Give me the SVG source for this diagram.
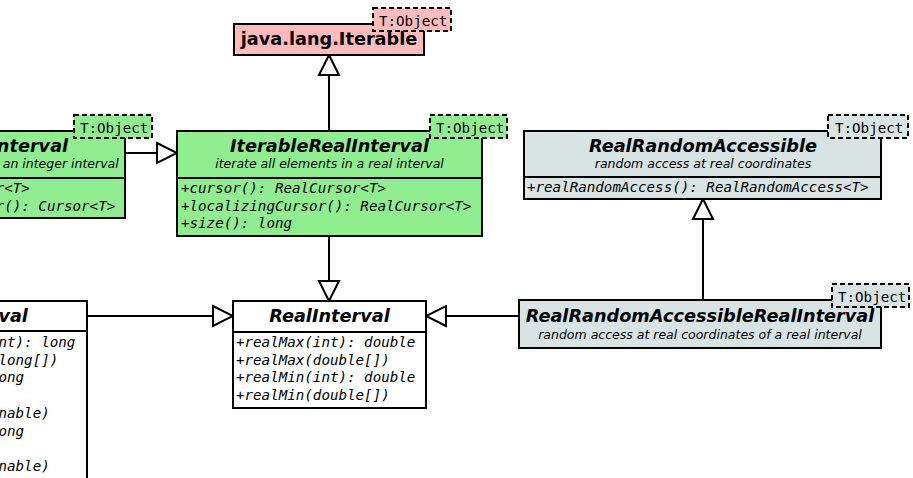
<svg xmlns="http://www.w3.org/2000/svg" width="913" height="478" viewBox="0 0 913 478">
  <style>
    .box { stroke: #000; stroke-width: 2; }
    .white { fill: #ffffff; }
    .green { fill: #90ee90; }
    .pink { fill: #ffbbbb; }
    .grey { fill: #d8e4e4; }
    .div { stroke: #000; stroke-width: 2; }
    .tag { stroke: #000; stroke-width: 2; stroke-dasharray: 5 3; }
    .tagtxt { font-family: "DejaVu Sans Mono", "Liberation Mono", monospace; font-size: 14.2px; fill: #000; }
    .title { font-family: "DejaVu Sans", "Liberation Sans", sans-serif; font-size: 17.7px; font-weight: bold; font-style: italic; text-anchor: middle; fill: #000; }
    .plain { font-style: normal; }
    .sub { font-family: "DejaVu Sans", "Liberation Sans", sans-serif; font-size: 12.5px; font-style: italic; text-anchor: middle; fill: #000; }
    .op { font-family: "DejaVu Sans Mono", "Liberation Mono", monospace; font-size: 14.2px; font-style: italic; fill: #000; }
    .edge { stroke: #000; stroke-width: 2; fill: none; marker-end: url(#gen); }
  </style>
  <defs>
    <!-- hollow generalization arrowhead, tip at the line end -->
    <marker id="gen" viewBox="-2 -2 24 24" refX="20" refY="10" markerWidth="24" markerHeight="24" markerUnits="userSpaceOnUse" orient="auto">
      <path d="M0,0 L20,10 L0,20 Z" fill="#ffffff" stroke="#000" stroke-width="2" stroke-linejoin="miter"/>
    </marker>
  </defs>

  <g id="connectors">
    <path class="edge" d="M329,131 L329,55"/>
    <path class="edge" d="M125,153 L177,153"/>
    <path class="edge" d="M329,236 L329,301"/>
    <path class="edge" d="M87,316 L233,316"/>
    <path class="edge" d="M519,316 L426,316"/>
    <path class="edge" d="M703,300 L703,199"/>
  </g>

  <g id="Iterable">
    <rect class="box pink" x="234" y="24" width="190" height="31"/>
    <text class="title plain" x="329" y="45">java.lang.Iterable</text>
    <rect class="tag pink" x="373" y="8" width="78" height="23"/>
    <text class="tagtxt" x="379" y="25.5">T:Object</text>
  </g>

  <g id="IterableInterval">
    <rect class="box green" x="-145" y="131" width="270" height="87"/>
    <line class="div" x1="-145" y1="178" x2="125" y2="178"/>
    <text class="title" x="-10" y="152">IterableInterval</text>
    <text class="sub" x="-10" y="168">iterate all elements in an integer interval</text>
    <text class="op" x="-141" y="193">+cursor(): Cursor&lt;T&gt;</text>
    <text class="op" x="-141" y="210.7">+localizingCursor(): Cursor&lt;T&gt;</text>
    <rect class="tag green" x="74" y="115" width="78" height="23"/>
    <text class="tagtxt" x="80" y="132.5">T:Object</text>
  </g>

  <g id="IterableRealInterval">
    <rect class="box green" x="177" y="131" width="305" height="105"/>
    <line class="div" x1="177" y1="178" x2="482" y2="178"/>
    <text class="title" x="329.5" y="152">IterableRealInterval</text>
    <text class="sub" x="329.5" y="168">iterate all elements in a real interval</text>
    <text class="op" x="181" y="193">+cursor(): RealCursor&lt;T&gt;</text>
    <text class="op" x="181" y="210.7">+localizingCursor(): RealCursor&lt;T&gt;</text>
    <text class="op" x="181" y="228.4">+size(): long</text>
    <rect class="tag green" x="430" y="115" width="77" height="23"/>
    <text class="tagtxt" x="436" y="132.5">T:Object</text>
  </g>

  <g id="RealRandomAccessible">
    <rect class="box grey" x="524" y="131" width="357" height="68"/>
    <line class="div" x1="524" y1="177" x2="881" y2="177"/>
    <text class="title" x="703" y="152">RealRandomAccessible</text>
    <text class="sub" x="703" y="168">random access at real coordinates</text>
    <text class="op" x="527" y="192">+realRandomAccess(): RealRandomAccess&lt;T&gt;</text>
    <rect class="tag grey" x="828" y="115" width="80" height="23"/>
    <text class="tagtxt" x="835" y="132.5">T:Object</text>
  </g>

  <g id="Interval">
    <rect class="box white" x="-109" y="301" width="196" height="200"/>
    <line class="div" x1="-109" y1="331" x2="87" y2="331"/>
    <text class="title" x="-11" y="322">Interval</text>
    <text class="op" x="-104" y="347">+dimension(int): long</text>
    <text class="op" x="-104" y="364.7">+dimensions(long[])</text>
    <text class="op" x="-104" y="382.4">+min(int): long</text>
    <text class="op" x="-104" y="400.1">+min(long[])</text>
    <text class="op" x="-104" y="417.8">+min(Positionable)</text>
    <text class="op" x="-104" y="435.5">+max(int): long</text>
    <text class="op" x="-104" y="453.2">+max(long[])</text>
    <text class="op" x="-104" y="470.9">+max(Positionable)</text>
  </g>

  <g id="RealInterval">
    <rect class="box white" x="233" y="301" width="193" height="107"/>
    <line class="div" x1="233" y1="332" x2="426" y2="332"/>
    <text class="title" x="329.5" y="322">RealInterval</text>
    <text class="op" x="236" y="347">+realMax(int): double</text>
    <text class="op" x="236" y="364.7">+realMax(double[])</text>
    <text class="op" x="236" y="382.4">+realMin(int): double</text>
    <text class="op" x="236" y="400.1">+realMin(double[])</text>
  </g>

  <g id="RealRandomAccessibleRealInterval">
    <rect class="box grey" x="519" y="300" width="362" height="48"/>
    <text class="title" x="700" y="322">RealRandomAccessibleRealInterval</text>
    <text class="sub" x="700" y="338.5">random access at real coordinates of a real interval</text>
    <rect class="tag grey" x="832" y="284" width="77" height="23"/>
    <text class="tagtxt" x="838" y="301.5">T:Object</text>
  </g>
</svg>
